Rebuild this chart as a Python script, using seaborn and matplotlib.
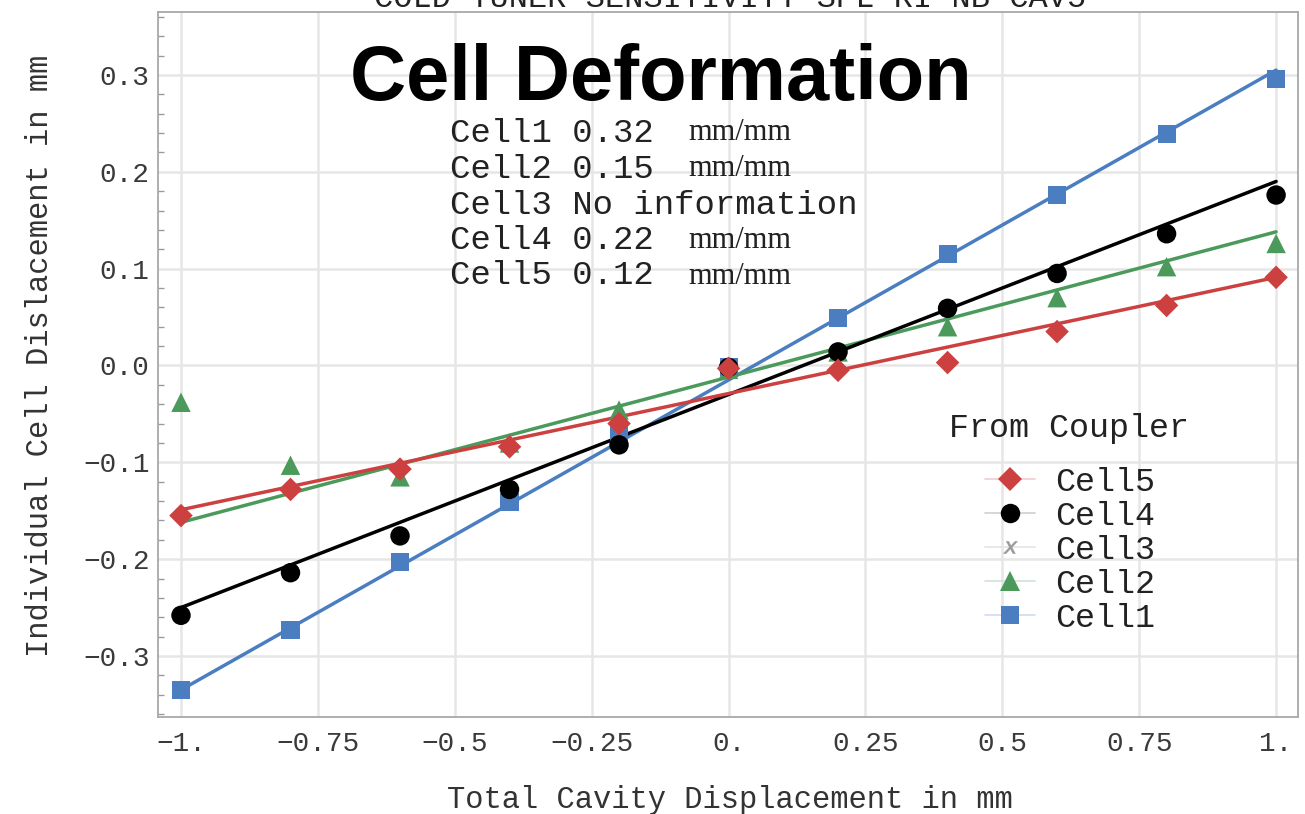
import numpy as np
import pandas as pd
import matplotlib
matplotlib.use("Agg")
import matplotlib.pyplot as plt
from matplotlib.lines import Line2D
from matplotlib.ticker import FixedLocator, MultipleLocator
import seaborn as sns

# Total cavity displacement (mm)
x_disp = [-1.0, -0.8, -0.6, -0.4, -0.2, 0.0, 0.2, 0.4, 0.6, 0.8, 1.0]

# Measured individual cell displacement (mm)
cell1 = [-0.335, -0.273, -0.203, -0.141, -0.072, -0.002, 0.049, 0.115, 0.176, 0.239, 0.296]
cell2 = [-0.038, -0.103, -0.115, -0.080, -0.046, -0.004, 0.014, 0.040, 0.070, 0.102, 0.126]
cell4 = [-0.258, -0.214, -0.176, -0.128, -0.082, -0.002, 0.014, 0.059, 0.095, 0.136, 0.176]
cell5 = [-0.155, -0.128, -0.107, -0.084, -0.060, -0.003, -0.005, 0.003, 0.035, 0.062, 0.091]

# Linear fits: sensitivity (mm/mm) and offset (mm)
fit_names = ["Cell1", "Cell2", "Cell4", "Cell5"]
fit_slopes = [0.32, 0.15, 0.22, 0.12]
fit_offsets = [-0.015, -0.012, -0.030, -0.029]
fit_range = [-1.0, 1.0]

sens_rows = [("Cell1", "0.32", "mm/mm"),
             ("Cell2", "0.15", "mm/mm"),
             ("Cell3", "No information", ""),
             ("Cell4", "0.22", "mm/mm"),
             ("Cell5", "0.12", "mm/mm")]

x_ticks = [-1.0, -0.75, -0.5, -0.25, 0.0, 0.25, 0.5, 0.75, 1.0]
x_tick_labels = ["\u22121.", "\u22120.75", "\u22120.5", "\u22120.25", "0.", "0.25", "0.5", "0.75", "1."]
y_ticks = [-0.3, -0.2, -0.1, 0.0, 0.1, 0.2, 0.3]
y_tick_labels = ["\u22120.3", "\u22120.2", "\u22120.1", "0.0", "0.1", "0.2", "0.3"]

colors = {"Cell1": "#4a7ec0", "Cell2": "#4b9a5c", "Cell3": "#9a9a9a",
          "Cell4": "#000000", "Cell5": "#cc4040"}
markers = {"Cell1": "s", "Cell2": "^", "Cell4": "o", "Cell5": "D"}
msizes = {"Cell1": 13, "Cell2": 14, "Cell4": 14, "Cell5": 12}

sns.set_theme(style="white")
plt.rcParams["font.family"] = ["Liberation Mono", "DejaVu Sans Mono"]
plt.rcParams["axes.unicode_minus"] = True

W, H = 1305, 814
fig = plt.figure(figsize=(W / 100, H / 100), dpi=100)
fig.patch.set_facecolor("white")
ax = fig.add_axes([158 / W, 1 - 717 / H, (1298 - 158) / W, (717 - 12) / H])
ax.set_facecolor("white")

# fitted lines
for name, k, b in zip(fit_names, fit_slopes, fit_offsets):
    fdf = pd.DataFrame({"x": fit_range, "y": [k * v + b for v in fit_range]})
    sns.lineplot(data=fdf, x="x", y="y", ax=ax, color=colors[name], lw=2.5,
                 zorder=3, legend=False)

# measured points
series = {"Cell1": cell1, "Cell2": cell2, "Cell4": cell4, "Cell5": cell5}
for name in ["Cell1", "Cell2", "Cell4", "Cell5"]:
    df = pd.DataFrame({"x": x_disp, "y": series[name]})
    sns.scatterplot(data=df, x="x", y="y", ax=ax, marker=markers[name],
                    s=msizes[name] ** 2, color=colors[name], edgecolor="none",
                    linewidth=0, zorder=4, legend=False)

ax.set_xlim(-1.042, 1.040)
ax.set_ylim(-0.363, 0.365)
ax.xaxis.set_major_locator(FixedLocator(x_ticks))
ax.set_xticklabels(x_tick_labels)
ax.yaxis.set_major_locator(FixedLocator(y_ticks))
ax.set_yticklabels(y_tick_labels)
ax.yaxis.set_minor_locator(MultipleLocator(0.02))
ax.tick_params(axis="both", which="major", direction="in", length=8, width=1,
               color="#9a9a9a", labelsize=20, labelcolor="#3a3a3a")
ax.tick_params(axis="x", pad=10)
ax.tick_params(axis="y", pad=6)
ax.tick_params(axis="y", which="minor", direction="in", length=4, width=1,
               color="#9a9a9a", left=True)
ax.tick_params(top=False, right=False)
ax.grid(True, which="major", color="#e6e6e6", lw=1.8)
ax.set_axisbelow(True)
for sp in ax.spines.values():
    sp.set_color("#a8a8a8")
    sp.set_linewidth(1.3)
ax.set_xlabel("")
ax.set_ylabel("")

fig.text(730 / W, 1 - 800 / H, "Total Cavity Displacement in mm", ha="center",
         va="center", fontsize=22, color="#333333")
fig.text(40 / W, 1 - 356 / H, "Individual Cell Dislacement in mm", ha="center",
         va="center", rotation=90, fontsize=22, color="#333333")

# plot title (runs off the top edge)
fig.text(730 / W, 1 - 7 / H, "COLD TUNER SENSITIVITY SPL-RI-NB-CAV5", ha="center",
         va="baseline", fontsize=23, color="#222222")

# headline
fig.text(661 / W, 1 - 100 / H, "Cell Deformation", ha="center", va="baseline",
         fontsize=56, fontweight="bold", family="Liberation Sans", color="black")

# sensitivity summary
row_y = [133, 169, 205, 241, 276]
for (nm, val, unit), py in zip(sens_rows, row_y):
    fig.text(450 / W, 1 - py / H, f"{nm} {val}", ha="left", va="center",
             fontsize=24.5, color="#222222")
    if unit:
        fig.text(688 / W, 1 - py / H, unit, ha="left", va="center",
                 fontsize=22, family="Liberation Serif", color="#222222")

# legend
fig.text(1069 / W, 1 - 428 / H, "From Coupler", ha="center", va="center",
         fontsize=24, color="#222222")
light = {"Cell5": "#f2cccc", "Cell4": "#d0d0d0", "Cell3": "#e4e4e4",
         "Cell2": "#cfe3d3", "Cell1": "#cfdcef"}
handles = []
labels = []
for name in ["Cell5", "Cell4", "Cell3", "Cell2", "Cell1"]:
    if name == "Cell3":
        h = Line2D([], [], color=light[name], lw=1.2, marker="$x$", markersize=10,
                   markerfacecolor=colors[name], markeredgecolor=colors[name],
                   markeredgewidth=0.4)
    else:
        h = Line2D([], [], color=light[name], lw=1.2, marker=markers[name],
                   markersize=msizes[name], markerfacecolor=colors[name],
                   markeredgecolor=colors[name], markeredgewidth=0)
    handles.append(h)
    labels.append(name)
leg = fig.legend(handles, labels, loc="upper left",
                 bbox_to_anchor=(985 / W, 1 - 467 / H), frameon=False,
                 fontsize=24, handlelength=1.5, handletextpad=0.6,
                 labelspacing=0.09, borderpad=0, borderaxespad=0)
for t in leg.get_texts():
    t.set_color("#222222")

fig.savefig("out.png", dpi=100)
